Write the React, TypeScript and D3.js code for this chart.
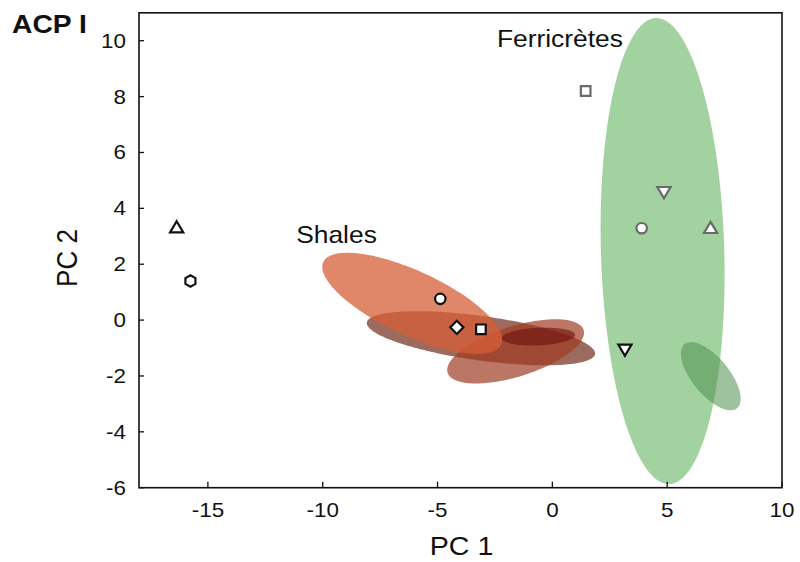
import React from "react";
import * as d3 from "d3";

// ---- Data ----
const xTicks = [-15, -10, -5, 0, 5, 10];
const yTicks = [-6, -4, -2, 0, 2, 4, 6, 8, 10];
const xDomain = [-18, 10];
const yDomain = [-6, 11];

// Confidence ellipses: center, half-extent in x / y, correlation
const ellipseNames = ["Ferricrètes 1", "Ferricrètes 2", "Shales 2", "Shales 3", "Shales 1", "Shales 4"];
const ellipseCx = [4.8, 6.9, -3.11, -1.6, -6.1, -0.61];
const ellipseCy = [2.47, -2.01, -0.65, -1.12, 0.6, -0.59];
const ellipseSx = [2.7, 1.3, 4.97, 2.98, 3.92, 1.6];
const ellipseSy = [8.34, 1.22, 0.97, 1.15, 1.81, 0.32];
const ellipseR = [-0.1, -0.66, -0.56, 0.58, -0.72, 0.18];
const ellipseFill = ["#a2d2a0", "#4f8f4f", "rgb(110,35,20)", "rgb(160,60,35)", "rgb(215,95,55)", "rgb(110,15,10)"];
const ellipseOpacity = [1, 0.55, 0.68, 0.7, 0.75, 0.6];

// Sample points
const markerX = [-16.36, -15.76, -4.88, -4.16, -3.11, 3.16, 1.45, 4.86, 3.89, 6.89];
const markerY = [3.33, 1.4, 0.76, -0.26, -0.33, -1.07, 8.2, 4.57, 3.29, 3.31];
const markerShape = ["triangleUp", "hexagon", "circle", "diamond", "square", "triangleDown", "square", "triangleDown", "circle", "triangleUp"];
const markerGroup = ["shale", "shale", "shale", "shale", "shale", "shale", "ferri", "ferri", "ferri", "ferri"];

const labels = ["Shales", "Ferricrètes"];
const labelX = [-9.4, 0.33];
const labelY = [2.75, 9.77];

const FONT = "'Liberation Sans', Arial, Helvetica, sans-serif";

function shapePath(shape: string): string {
  switch (shape) {
    case "triangleUp":
      return "M0,-5.8L6.6,5.4L-6.6,5.4Z";
    case "triangleDown":
      return "M0,5.8L6.6,-5.4L-6.6,-5.4Z";
    case "square":
      return "M-4.8,-4.8H4.8V4.8H-4.8Z";
    case "diamond":
      return "M0,-6.6L6.6,0L0,6.6L-6.6,0Z";
    case "hexagon": {
      const r = 5.8;
      const pts = d3.range(6).map((i) => {
        const a = (Math.PI / 3) * i - Math.PI / 2;
        return [r * Math.cos(a), r * Math.sin(a)];
      });
      return "M" + pts.map((p) => p.join(",")).join("L") + "Z";
    }
    default:
      return d3.arc()({ innerRadius: 0, outerRadius: 5.2, startAngle: 0, endAngle: 2 * Math.PI }) as string;
  }
}

function SText(props: any) {
  const { x, y, sx = 1.12, children, ...rest } = props;
  return (
    <text transform={`translate(${x},${y}) scale(${sx},1)`} fontFamily={FONT} {...rest}>
      {children}
    </text>
  );
}

export default function App() {
  const W = 800;
  const H = 562;
  const x = d3.scaleLinear().domain(xDomain).range([139, 782]);
  const y = d3.scaleLinear().domain(yDomain).range([487.7, 12.8]);

  const line = d3
    .line<[number, number]>()
    .x((d) => x(d[0]))
    .y((d) => y(d[1]))
    .curve(d3.curveLinearClosed);

  const ellipsePath = (i: number) => {
    const r = ellipseR[i];
    const k = Math.sqrt(1 - r * r);
    const pts: [number, number][] = d3.range(180).map((j) => {
      const t = (j / 180) * 2 * Math.PI;
      return [
        ellipseCx[i] + ellipseSx[i] * Math.cos(t),
        ellipseCy[i] + ellipseSy[i] * (r * Math.cos(t) + k * Math.sin(t)),
      ];
    });
    return line(pts) as string;
  };

  const [x0, x1] = x.range();
  const [y0, y1] = y.range();

  return (
    <svg width={W} height={H} style={{ position: "absolute", left: 0, top: 0, background: "#fff" }}>
      <rect x={0} y={0} width={W} height={H} fill="#fff" />
      {/* ellipses */}
      {ellipseNames.map((n, i) => (
        <path key={n} d={ellipsePath(i)} fill={ellipseFill[i]} fillOpacity={ellipseOpacity[i]} stroke="none" />
      ))}

      {/* frame */}
      <rect x={x0} y={y1} width={x1 - x0} height={y0 - y1} fill="none" stroke="#111" strokeWidth={1.6} />

      {/* x ticks */}
      {xTicks.map((t) => (
        <g key={"xt" + t}>
          <line x1={x(t)} x2={x(t)} y1={y0} y2={y0 - 6} stroke="#111" strokeWidth={1.3} />
          <SText x={x(t)} y={y0 + 29.5} textAnchor="middle" fontSize={20} fill="#111">
            {t}
          </SText>
        </g>
      ))}
      {/* y ticks */}
      {yTicks.map((t) => (
        <g key={"yt" + t}>
          <line x1={x0} x2={x0 + 5} y1={y(t)} y2={y(t)} stroke="#111" strokeWidth={1.3} />
          <SText x={x0 - 13} y={y(t) + 7} textAnchor="end" fontSize={20} fill="#111">
            {t}
          </SText>
        </g>
      ))}

      {/* markers */}
      {markerX.map((mx, i) => (
        <path
          key={"m" + i}
          d={shapePath(markerShape[i])}
          transform={`translate(${x(mx)},${y(markerY[i])})`}
          fill="#fff"
          stroke={markerGroup[i] === "ferri" ? "#6a6a6a" : "#111"}
          strokeWidth={2.2}
          strokeLinejoin="miter"
        />
      ))}

      {/* annotations */}
      {labels.map((l, i) => (
        <SText key={l} x={x(labelX[i])} y={y(labelY[i])} textAnchor="middle" fontSize={24} fill="#111" sx={1.1}>
          {l}
        </SText>
      ))}

      {/* title & axis labels */}
      <SText x={12} y={33} fontSize={25} fontWeight="bold" fill="#111" sx={1.13}>
        ACP I
      </SText>
      <SText x={(x0 + x1) / 2 + 1} y={555} textAnchor="middle" fontSize={26} fill="#111" sx={1.1}>
        PC 1
      </SText>
      <text
        transform={`translate(77,258) scale(1.12,1) rotate(-90)`}
        textAnchor="middle"
        fontFamily={FONT}
        fontSize={26}
        fill="#111"
      >
        PC 2
      </text>
    </svg>
  );
}
